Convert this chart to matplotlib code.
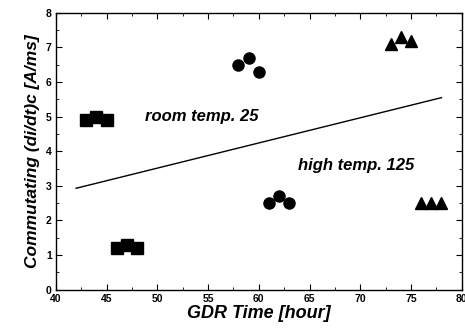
import matplotlib.pyplot as plt
from matplotlib.ticker import MultipleLocator

plt.rcParams['font.family'] = ['Liberation Sans', 'DejaVu Sans']

# GDR time [hour] and commutating di/dt [A/ms] for each marker group
sq_x = [43, 44, 45, 46, 47, 48]
sq_y = [4.9, 5.0, 4.9, 1.2, 1.3, 1.2]
ci_x = [58, 59, 60, 61, 62, 63]
ci_y = [6.5, 6.7, 6.3, 2.5, 2.7, 2.5]
tr_x = [73, 74, 75, 76, 77, 78]
tr_y = [7.1, 7.3, 7.2, 2.5, 2.5, 2.5]

# separating line between room and high temperature groups
line_x = [42, 78]
line_y = [2.93, 5.55]

fig = plt.figure(figsize=(4.65, 3.31), dpi=100)
ax = fig.add_axes([0.12, 0.125, 0.873, 0.836])

ax.plot(sq_x, sq_y, 's', color='black', markersize=8, linestyle='none')
ax.plot(ci_x, ci_y, 'o', color='black', markersize=8, linestyle='none')
ax.plot(tr_x, tr_y, '^', color='black', markersize=8.5, linestyle='none')
ax.plot(line_x, line_y, color='black', linewidth=1.0)

ax.text(48.8, 5.0, 'room temp. 25', fontsize=12, fontweight='bold',
        fontstyle='italic', va='center', ha='left')
ax.text(63.9, 3.6, 'high temp. 125', fontsize=12, fontweight='bold',
        fontstyle='italic', va='center', ha='left')

ax.set_xlim(40, 80)
ax.set_ylim(0, 8)
ax.xaxis.set_major_locator(MultipleLocator(5))
ax.xaxis.set_minor_locator(MultipleLocator(2.5))
ax.yaxis.set_major_locator(MultipleLocator(1))
ax.yaxis.set_minor_locator(MultipleLocator(0.5))
ax.tick_params(which='both', direction='in', top=True, right=True,
               labelsize=7.5, pad=3)
ax.tick_params(which='major', length=4)
ax.tick_params(which='minor', length=2)
for lbl in ax.get_xticklabels() + ax.get_yticklabels():
    lbl.set_fontweight('bold')
for sp in ax.spines.values():
    sp.set_linewidth(1.0)

ax.set_xlabel('GDR Time [hour]', fontsize=13, fontweight='bold',
              fontstyle='italic', labelpad=1)
ax.set_ylabel('Commutating (di/dt)c [A/ms]', fontsize=12.5, fontweight='bold',
              fontstyle='italic', labelpad=4)

fig.savefig('out.png', dpi=100)
